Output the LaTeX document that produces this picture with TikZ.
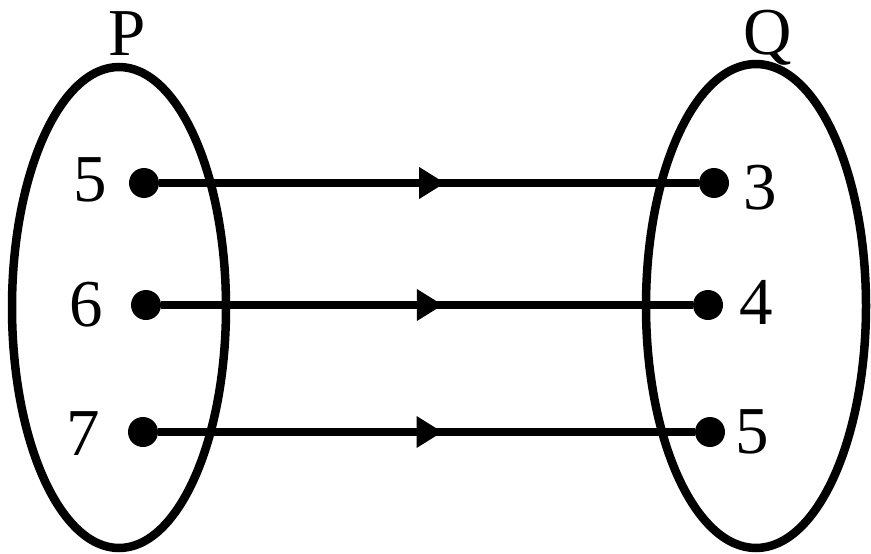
\documentclass[tikz,border=0pt]{standalone}
\usepackage{fontspec}
\setmainfont{Liberation Serif}
\usetikzlibrary{arrows.meta,positioning,shapes.geometric,decorations.markings}

\begin{document}
\begin{tikzpicture}[
            x=1pt, y=-1pt,
            dot/.style={circle, fill=black, inner sep=0pt, minimum size=30pt},
            num/.style={font=\fontsize{67}{70}\selectfont, inner sep=0pt},
            setbox/.style={draw, ellipse, line width=8.5pt, inner sep=0pt},
            maps/.style={
                line width=8.5pt, postaction={decorate},
                decoration={markings,
                    mark=at position 0.53 with {\arrow{Triangle[length=26pt,width=30pt]}}}
            }
        ]
        \useasboundingbox (0,0) rectangle (871,554);
        % the two sets
        \node[setbox, minimum width=214pt, minimum height=481pt] (setP) at (119,307.5) {};
        \node[setbox, minimum width=220pt, minimum height=484pt] (setQ) at (756,306) {};
        \node[num, anchor=base] (labP) at (127,55) {P};
        \node[num, anchor=base] (labQ) at (768,54) {Q};
        % elements
        \node[dot] (p5) at (144,183) {};
        \node[dot] (p6) at (146,305) {};
        \node[dot] (p7) at (143,432) {};
        \node[dot] (q3) at (714,183) {};
        \node[dot] (q4) at (708,305) {};
        \node[dot] (q5) at (710,432) {};
        \node[num, left=22pt of p5, yshift=3pt] (n5) {5};
        \node[num, left=28pt of p6] (n6) {6};
        \node[num, left=28pt of p7, yshift=-2pt] (n7) {7};
        \node[num, right=14pt of q3, yshift=-5pt] (m3) {3};
        \node[num, right=16pt of q4, yshift=3pt] (m4) {4};
        \node[num, right=10pt of q5] (m5) {5};
        % mapping
        \draw[maps] (p5) -- (q3);
        \draw[maps] (p6) -- (q4);
        \draw[maps] (p7) -- (q5);
        \end{tikzpicture}
\end{document}
